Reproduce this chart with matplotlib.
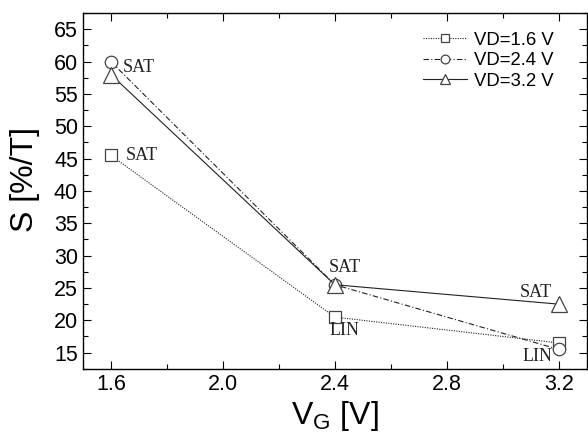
import matplotlib.pyplot as plt
from matplotlib.ticker import MultipleLocator

# gate voltage and sensitivity for each drain voltage
vg = [1.6, 2.4, 3.2]
s_vd16 = [45.5, 20.5, 16.5]
s_vd24 = [60.0, 25.5, 15.5]
s_vd32 = [58.0, 25.5, 22.5]

# region labels: (series, point index, text, offset in pixels)
region_labels = [
    (s_vd24, 0, "SAT", (28, -6)),
    (s_vd16, 0, "SAT", (31, 0)),
    (s_vd32, 1, "SAT", (10, 17)),
    (s_vd16, 1, "LIN", (10, -13)),
    (s_vd32, 2, "SAT", (-23, 12)),
    (s_vd24, 2, "LIN", (-21, -7)),
]

plt.rcParams["font.family"] = ["Liberation Sans", "DejaVu Sans"]

fig = plt.figure(figsize=(5.88, 4.37), dpi=100)
ax = fig.add_axes([0.141, 0.156, 0.857, 0.814])

mk = dict(markerfacecolor="white", markeredgecolor="#444444", markeredgewidth=0.9,
          color="#222222", linewidth=0.8)
ax.plot(vg, s_vd16, linestyle=(0, (1, 1.2)), marker="s", markersize=8.5,
        label="VD=1.6 V", zorder=3, **mk)
ax.plot(vg, s_vd24, linestyle=(0, (5, 2, 1, 2)), marker="o", markersize=9,
        label="VD=2.4 V", zorder=3, **mk)
ax.plot(vg, s_vd32, linestyle="-", marker="^", markersize=11,
        label="VD=3.2 V", zorder=4, **mk)

for series, i, txt, off in region_labels:
    ax.annotate(txt, (vg[i], series[i]), xytext=(off[0] * 0.72, off[1] * 0.72),
                textcoords="offset points", ha="center", va="center",
                fontsize=13, family=["Liberation Serif"], color="#222222")

ax.set_xlim(1.5, 3.3)
ax.set_ylim(12.5, 67.5)
ax.xaxis.set_major_locator(MultipleLocator(0.4))
ax.xaxis.set_minor_locator(MultipleLocator(0.2))
ax.yaxis.set_major_locator(MultipleLocator(5))
ax.yaxis.set_minor_locator(MultipleLocator(2.5))
ax.tick_params(which="both", direction="in", top=True, right=True,
               labelsize=15.5, width=0.8)
ax.tick_params(which="major", length=6)
ax.tick_params(which="minor", length=3.5)
ax.xaxis.set_major_formatter(plt.FuncFormatter(lambda v, p: f"{v:.1f}"))

ax.set_xlabel("V$_\\mathregular{G}$ [V]", fontsize=23, labelpad=3)
ax.set_ylabel("S [%/T]", fontsize=23)
ax.yaxis.set_label_coords(-0.085, 0.531)

for sp in ax.spines.values():
    sp.set_linewidth(1.0)

ax.legend(loc="upper right", bbox_to_anchor=(0.968, 0.995), frameon=False,
          fontsize=13.3, handlelength=2.4, handletextpad=0.4, labelspacing=0.2,
          markerscale=0.7)

fig.savefig("out.png", dpi=100)
